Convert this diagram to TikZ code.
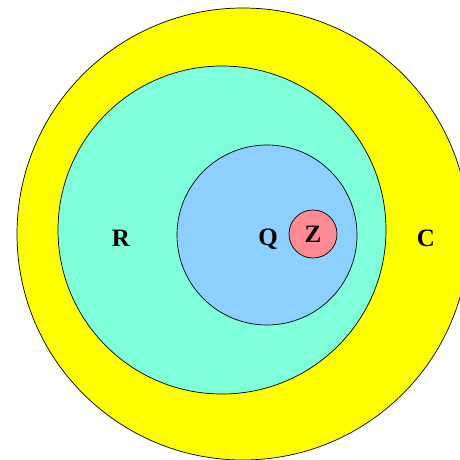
\documentclass[tikz,border=0pt]{standalone}
\usepackage{fontspec}
\setmainfont{Liberation Serif}
\definecolor{setC}{HTML}{FFFF00}
\definecolor{setR}{HTML}{7FFFD9}
\definecolor{setQ}{HTML}{8CD0FF}
\definecolor{setZ}{HTML}{FF8A94}
\begin{document}
\begin{tikzpicture}
  [x=1pt, y=-1pt,
   region/.style={circle, draw=black, line width=0.7pt, inner sep=0pt, outer sep=0pt},
   setname/.style={font=\fontsize{25}{25}\selectfont\bfseries, inner sep=0pt}]
  \useasboundingbox (0,0) rectangle (460,460);

  % Conjuntos
  \node[region, fill=setC, minimum size=452pt] (C) at (243,234) {};
  \node[region, fill=setR, minimum size=328pt] (R) at (222,230) {};
  \node[region, fill=setQ, minimum size=180pt] (Q) at (267,235) {};
  \node[region, fill=setZ, minimum size=48pt] (Z) at (313,234) {};

  % Etiquetas
  \node[setname] (lC) at (426,238) {C};
  \node[setname] (lR) at (121,238) {R};
  \node[setname] (lQ) at (268,239) {Q};
  \node[setname] (lZ) at (Z) {Z};
\end{tikzpicture}
\end{document}
